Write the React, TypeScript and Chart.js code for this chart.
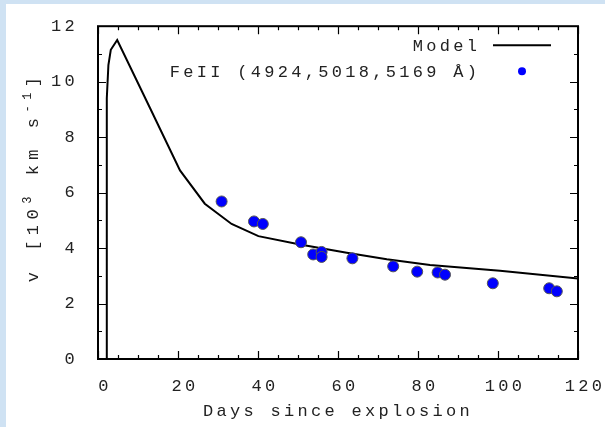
import React, { useEffect, useRef } from 'react';
import { Chart, registerables } from 'chart.js';

Chart.register(...registerables);

// ---- data ----
const modelDays = [2.1, 2.2, 2.6, 3.2, 4.8, 13, 20.5, 26.7, 33.4, 40.1, 50.5, 62.2, 72.2, 83, 100.5, 120];
const modelVel = [0, 9.4, 10.6, 11.15, 11.5, 9.05, 6.8, 5.6, 4.87, 4.43, 4.13, 3.83, 3.6, 3.39, 3.18, 2.9];

const feDays = [30.9, 39, 41.2, 50.75, 53.8, 55.9, 55.9, 63.6, 73.8, 79.8, 84.9, 86.75, 98.7, 112.8, 114.7];
const feVel = [5.68, 4.96, 4.87, 4.21, 3.77, 3.86, 3.68, 3.63, 3.34, 3.15, 3.12, 3.04, 2.73, 2.55, 2.44];

const xTicks = [0, 20, 40, 60, 80, 100, 120];
const yTicks = [0, 2, 4, 6, 8, 10, 12];
const xMinorStep = 5;
const yMinorStep = 1;

const xTitle = 'Days since explosion';
const modelLabel = 'Model';
const feLabel = 'FeII (4924,5018,5169 Å)';

// ---- style ----
const FONT = "'Liberation Mono', 'DejaVu Sans Mono', monospace";
const FS = 17;
const SUP = 12;
const LS = 3.3;
const YLS = 5.5;
const TEXT = '#222';
const MAJOR = 8;
const MINOR = 4;

const decor = {
  id: 'decor',
  beforeDraw(chart: any) {
    chart.ctx.letterSpacing = LS + 'px';
  },
  afterDraw(chart: any) {
    const { ctx, chartArea: a, scales } = chart;
    const xs = scales.x;
    const ys = scales.y;
    ctx.save();
    ctx.letterSpacing = LS + 'px';
    ctx.strokeStyle = '#000';
    ctx.lineWidth = 1.2;
    ctx.beginPath();
    for (let v = xs.min; v <= xs.max + 1e-9; v += xMinorStep) {
      const px = Math.round(xs.getPixelForValue(v)) + 0.5;
      const len = xTicks.includes(v) ? MAJOR : MINOR;
      ctx.moveTo(px, a.bottom);
      ctx.lineTo(px, a.bottom - len);
      ctx.moveTo(px, a.top);
      ctx.lineTo(px, a.top + len);
    }
    for (let v = ys.min; v <= ys.max + 1e-9; v += yMinorStep) {
      const py = Math.round(ys.getPixelForValue(v)) + 0.5;
      const len = yTicks.includes(v) ? MAJOR : MINOR;
      ctx.moveTo(a.left, py);
      ctx.lineTo(a.left + len, py);
      ctx.moveTo(a.right, py);
      ctx.lineTo(a.right - len, py);
    }
    ctx.stroke();
    ctx.lineWidth = 2;
    ctx.strokeRect(a.left, a.top, a.right - a.left, a.bottom - a.top);

    // legend
    ctx.fillStyle = TEXT;
    ctx.font = `${FS}px ${FONT}`;
    ctx.textAlign = 'right';
    ctx.textBaseline = 'middle';
    const tx = a.right - 101 + LS;
    const y1 = a.top + 19;
    const y2 = a.top + 45;
    ctx.fillText(modelLabel, tx, y1 + 1);
    ctx.fillText(feLabel, tx, y2 + 1);
    ctx.beginPath();
    ctx.lineWidth = 2;
    ctx.moveTo(a.right - 85, y1);
    ctx.lineTo(a.right - 27, y1);
    ctx.stroke();
    ctx.beginPath();
    ctx.fillStyle = '#0000ff';
    ctx.arc(a.right - 56, y2, 4, 0, Math.PI * 2);
    ctx.fill();

    // y title with superscripts
    ctx.letterSpacing = YLS + 'px';
    const parts: [string, number, number][] = [
      ['v [10', FS, 0],
      ['3', SUP, -7],
      [' km s', FS, 0],
      ['-1', SUP, -7],
      [']', FS, 0],
    ];
    let total = 0;
    const widths = parts.map(([t, s]) => {
      ctx.font = `${s}px ${FONT}`;
      const w = ctx.measureText(t).width;
      total += w;
      return w;
    });
    ctx.translate(32, (a.top + a.bottom) / 2 - 13);
    ctx.rotate(-Math.PI / 2);
    ctx.textAlign = 'left';
    ctx.textBaseline = 'alphabetic';
    ctx.fillStyle = TEXT;
    let cx = -(total - YLS) / 2;
    parts.forEach(([t, s, dy], i) => {
      ctx.font = `${s}px ${FONT}`;
      ctx.fillText(t, cx, dy);
      cx += widths[i];
    });
    ctx.restore();
  },
};

export default function App() {
  const ref = useRef<HTMLCanvasElement>(null);
  useEffect(() => {
    const chart = new Chart(ref.current as HTMLCanvasElement, {
      type: 'scatter',
      data: {
        datasets: [
          {
            label: feLabel,
            data: feDays.map((d, i) => ({ x: d, y: feVel[i] })),
            backgroundColor: '#0000ff',
            borderColor: '#555555',
            borderWidth: 1,
            pointRadius: 5.5,
            order: 0,
          },
          {
            type: 'line',
            label: modelLabel,
            data: modelDays.map((d, i) => ({ x: d, y: modelVel[i] })),
            borderColor: '#000000',
            borderWidth: 2,
            pointRadius: 0,
            tension: 0,
            fill: false,
            showLine: true,
            order: 1,
          } as any,
        ],
      },
      options: {
        responsive: false,
        animation: false,
        devicePixelRatio: 1,
        layout: { padding: { left: 0, right: 27, top: 19, bottom: 0 } },
        plugins: {
          legend: { display: false },
          tooltip: { enabled: false },
        },
        scales: {
          x: {
            type: 'linear',
            position: 'bottom',
            min: 0,
            max: 120,
            afterBuildTicks: (s: any) => {
              s.ticks = xTicks.map((v) => ({ value: v }));
            },
            afterFit: (s: any) => {
              s.height = 68;
            },
            grid: { display: false },
            border: { display: false },
            ticks: {
              autoSkip: false,
              maxRotation: 0,
              padding: 9,
              labelOffset: 7,
              color: TEXT,
              font: { family: FONT, size: FS },
            },
            title: {
              display: true,
              text: xTitle,
              color: TEXT,
              font: { family: FONT, size: FS, lineHeight: 1.2 },
              padding: { top: 0, bottom: 5 },
            },
          },
          y: {
            type: 'linear',
            min: 0,
            max: 12,
            afterBuildTicks: (s: any) => {
              s.ticks = yTicks.map((v) => ({ value: v }));
            },
            afterFit: (s: any) => {
              s.width = 92;
            },
            grid: { display: false },
            border: { display: false },
            ticks: {
              autoSkip: false,
              padding: 12,
              labelOffset: 0,
              color: TEXT,
              font: { family: FONT, size: FS },
            },
          },
        },
      },
      plugins: [decor],
    });
    return () => chart.destroy();
  }, []);

  return (
    <div style={{ position: 'fixed', left: 0, top: 0, width: 605, height: 427, background: '#cfe2f3' }}>
      <div style={{ position: 'absolute', left: 6, top: 4, width: 599, height: 423, background: '#ffffff' }}>
        <canvas ref={ref} width={599} height={423} style={{ display: 'block', width: 599, height: 423 }} />
      </div>
    </div>
  );
}
